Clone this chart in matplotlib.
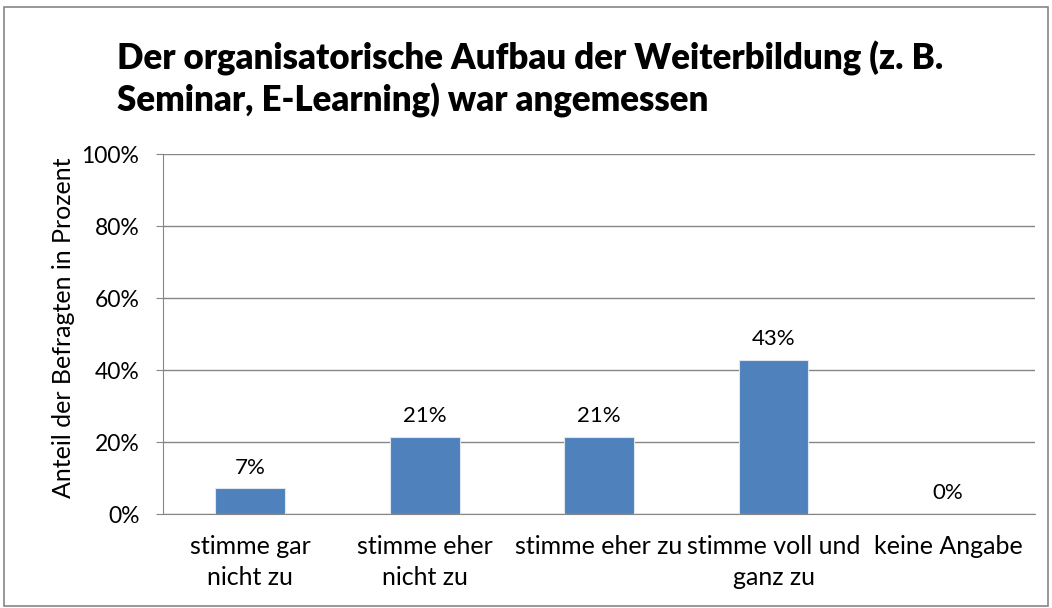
import matplotlib.pyplot as plt
from matplotlib.patches import Rectangle
from matplotlib.ticker import PercentFormatter

# Daten
kategorien = ['stimme gar\nnicht zu', 'stimme eher\nnicht zu', 'stimme eher zu',
              'stimme voll und\nganz zu', 'keine Angabe']
anteile = [7.14, 21.43, 21.43, 42.86, 0.0]
beschriftung = ['7%', '21%', '21%', '43%', '0%']

titel = 'Der organisatorische Aufbau der Weiterbildung (z. B.\nSeminar, E-Learning) war angemessen'

plt.rcParams['font.family'] = ['Lato', 'DejaVu Sans']

fig = plt.figure(figsize=(10.52, 6.08), dpi=100)
ax = fig.add_axes([0.155, 0.1546, 0.829, 0.592])

x = range(len(kategorien))
ax.bar(x, anteile, width=0.4, color='#4F81BD', edgecolor='#dfe6f0', linewidth=0.8, zorder=3)

for xi, wert, txt in zip(x, anteile, beschriftung):
    ax.text(xi, wert + 3, txt, ha='center', va='bottom', fontsize=16, color='black')

ax.set_xlim(-0.5, len(kategorien) - 0.5)
ax.set_ylim(0, 100)
ax.set_yticks(range(0, 101, 20))
ax.yaxis.set_major_formatter(PercentFormatter(decimals=0))
ax.set_xticks(list(x))
ax.set_xticklabels(kategorien, fontsize=18, linespacing=1.45)
ax.tick_params(axis='x', length=0, pad=15)
ax.tick_params(axis='y', length=5, color='#868686', labelsize=16.5, pad=12)

ax.grid(axis='y', color='#868686', linewidth=1, zorder=0)
for s in ['top', 'right']:
    ax.spines[s].set_visible(False)
ax.spines['left'].set_color('#868686')
ax.spines['bottom'].set_color('#868686')

ax.set_ylabel('Anteil der Befragten in Prozent', fontsize=18)
ax.yaxis.set_label_coords(-0.101, 0.517)

fig.text(0.111, 0.933, titel, fontsize=25, fontweight='heavy', ha='left', va='top', linespacing=1.25)

# Rahmen um das Diagramm
fig.patches.append(Rectangle((0.004, 0.004), 0.992, 0.984, transform=fig.transFigure,
                             fill=False, edgecolor='#868686', linewidth=1.2))

fig.savefig('out.png', dpi=100)
